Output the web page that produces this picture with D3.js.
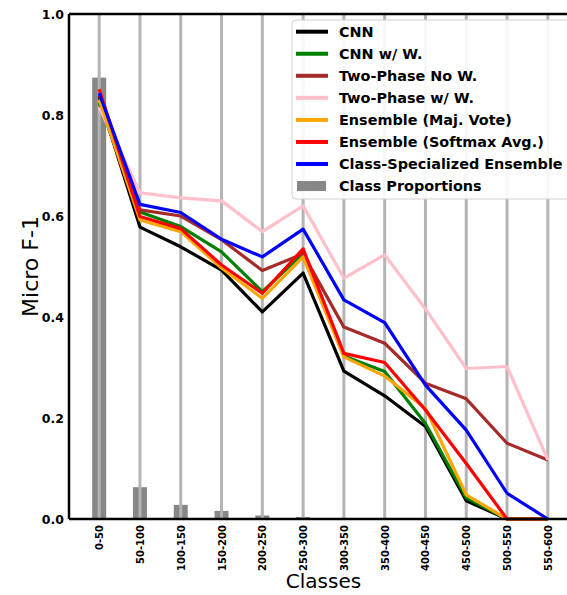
<!DOCTYPE html>
<html>
<head>
<meta charset="utf-8">
<script src="https://cdn.jsdelivr.net/npm/d3@7"></script>
<style>
  html, body { margin: 0; padding: 0; background: #fff; }
  svg { display: block; font-family: "DejaVu Sans", sans-serif; }
</style>
</head>
<body>
<svg id="chart" width="567" height="595"></svg>
<script>
// Class-size buckets on the x axis
const categories = ["0-50", "50-100", "100-150", "150-200", "200-250", "250-300",
  "300-350", "350-400", "400-450", "450-500", "500-550", "550-600"];

// Micro F-1 per bucket for each model
const cnn          = [0.835, 0.578, 0.539, 0.493, 0.410, 0.487, 0.293, 0.244, 0.183, 0.036, 0.0, 0.0];
const cnnW         = [0.824, 0.608, 0.579, 0.529, 0.450, 0.526, 0.323, 0.292, 0.189, 0.042, 0.0, 0.0];
const twoPhaseNoW  = [0.838, 0.612, 0.600, 0.553, 0.492, 0.525, 0.380, 0.348, 0.269, 0.238, 0.150, 0.117];
const twoPhaseW    = [0.815, 0.646, 0.636, 0.630, 0.569, 0.620, 0.477, 0.523, 0.416, 0.298, 0.302, 0.117];
const ensMajVote   = [0.830, 0.592, 0.569, 0.497, 0.437, 0.519, 0.321, 0.283, 0.219, 0.048, 0.0, 0.0];
const ensSoftmax   = [0.851, 0.599, 0.575, 0.503, 0.447, 0.535, 0.328, 0.310, 0.216, 0.110, 0.0, 0.0];
const classSpecEns = [0.843, 0.623, 0.607, 0.554, 0.519, 0.574, 0.434, 0.389, 0.265, 0.176, 0.051, 0.0];

// Share of classes falling in each bucket
const classProportions = [0.874, 0.063, 0.028, 0.016, 0.007, 0.004, 0.002, 0.001, 0.001, 0.0005, 0.0003, 0.0002];

const yTicks = [0.0, 0.2, 0.4, 0.6, 0.8, 1.0];

const series = [
  { name: "CNN", values: cnn, color: "#000000" },
  { name: "CNN w/ W.", values: cnnW, color: "#008000" },
  { name: "Two-Phase No W.", values: twoPhaseNoW, color: "#a52a2a" },
  { name: "Two-Phase w/ W.", values: twoPhaseW, color: "#ffc0cb" },
  { name: "Ensemble (Maj. Vote)", values: ensMajVote, color: "#ffa500" },
  { name: "Ensemble (Softmax Avg.)", values: ensSoftmax, color: "#ff0000" },
  { name: "Class-Specialized Ensemble", values: classSpecEns, color: "#0000ff" }
];

const svg = d3.select("#chart");
const margin = { left: 69, top: 14, right: -11, bottom: 76 };
const W = 567, H = 595;
const plotW = W - margin.left - margin.right;
const plotH = H - margin.top - margin.bottom;

const x = d3.scalePoint().domain(categories).range([0, plotW]).padding(0.74);
const y = d3.scaleLinear().domain([0, 1]).range([plotH, 0]);

const g = svg.append("g").attr("transform", `translate(${margin.left},${margin.top})`);

// Proportion bars
const barW = 14;
g.selectAll("rect.bar").data(classProportions).enter().append("rect")
  .attr("class", "bar")
  .attr("x", (d, i) => x(categories[i]) - barW / 2)
  .attr("y", d => y(d))
  .attr("width", barW)
  .attr("height", d => plotH - y(d))
  .attr("fill", "#878787");

// Vertical grid lines
g.selectAll("line.grid").data(categories).enter().append("line")
  .attr("class", "grid")
  .attr("x1", d => x(d)).attr("x2", d => x(d))
  .attr("y1", 0).attr("y2", plotH)
  .attr("stroke", "#b4b4b4")
  .attr("stroke-width", 3);

// Model lines
const line = d3.line()
  .x((d, i) => x(categories[i]))
  .y(d => y(d));

series.forEach(s => {
  g.append("path")
    .datum(s.values)
    .attr("d", line)
    .attr("fill", "none")
    .attr("stroke", s.color)
    .attr("stroke-width", 3.2)
    .attr("stroke-linejoin", "round");
});

// Frame
g.append("line").attr("x1", 0).attr("x2", 0).attr("y1", 0).attr("y2", plotH)
  .attr("stroke", "#000").attr("stroke-width", 2.5);
g.append("line").attr("x1", 0).attr("x2", plotW).attr("y1", 0).attr("y2", 0)
  .attr("stroke", "#000").attr("stroke-width", 2.5);
g.append("line").attr("x1", 0).attr("x2", plotW).attr("y1", plotH).attr("y2", plotH)
  .attr("stroke", "#000").attr("stroke-width", 2.5);

// Y axis
const yAxis = g.append("g")
  .call(d3.axisLeft(y).tickValues(yTicks).tickFormat(d3.format(".1f")).tickSize(0).tickPadding(5));
yAxis.select(".domain").remove();
yAxis.selectAll("text")
  .attr("font-family", "DejaVu Sans, sans-serif")
  .attr("font-weight", "bold")
  .attr("font-size", 12.5)
  .attr("fill", "#000");

// X axis with vertical labels
const xAxis = g.append("g")
  .attr("transform", `translate(0,${plotH})`)
  .call(d3.axisBottom(x).tickSize(0));
xAxis.select(".domain").remove();
xAxis.selectAll("text")
  .attr("font-family", "DejaVu Sans, sans-serif")
  .attr("font-weight", "bold")
  .attr("font-size", 10)
  .attr("fill", "#000")
  .attr("text-anchor", "end")
  .attr("transform", "rotate(-90)")
  .attr("x", -6)
  .attr("y", 0)
  .attr("dy", "0.35em");

// Axis titles
svg.append("text")
  .attr("x", margin.left + plotW / 2)
  .attr("y", 588)
  .attr("text-anchor", "middle")
  .attr("font-size", 20)
  .attr("fill", "#000")
  .text("Classes");

svg.append("text")
  .attr("transform", `translate(38,${margin.top + plotH / 2}) rotate(-90)`)
  .attr("text-anchor", "middle")
  .attr("font-size", 22)
  .attr("fill", "#000")
  .text("Micro F-1");

// Legend
const legend = svg.append("g").attr("transform", "translate(292,20)");
legend.append("rect")
  .attr("x", 0).attr("y", 0)
  .attr("width", 300).attr("height", 179)
  .attr("rx", 4)
  .attr("fill", "#fff").attr("fill-opacity", 0.9)
  .attr("stroke", "#d0d0d0").attr("stroke-width", 1);

const rowH = 22.05;
const legendFont = 14.4;
series.forEach((s, i) => {
  const cy = 11.7 + i * rowH;
  legend.append("line")
    .attr("x1", 4).attr("x2", 36).attr("y1", cy).attr("y2", cy)
    .attr("stroke", s.color).attr("stroke-width", 4);
  legend.append("text")
    .attr("x", 47).attr("y", cy).attr("dy", "0.36em")
    .attr("font-weight", "bold").attr("font-size", legendFont)
    .attr("fill", "#000")
    .text(s.name);
});
{
  const cy = 11.7 + series.length * rowH;
  legend.append("rect")
    .attr("x", 5).attr("y", cy - 5).attr("width", 29).attr("height", 10)
    .attr("fill", "#878787");
  legend.append("text")
    .attr("x", 47).attr("y", cy).attr("dy", "0.36em")
    .attr("font-weight", "bold").attr("font-size", legendFont)
    .attr("fill", "#000")
    .text("Class Proportions");
}
</script>
</body>
</html>
